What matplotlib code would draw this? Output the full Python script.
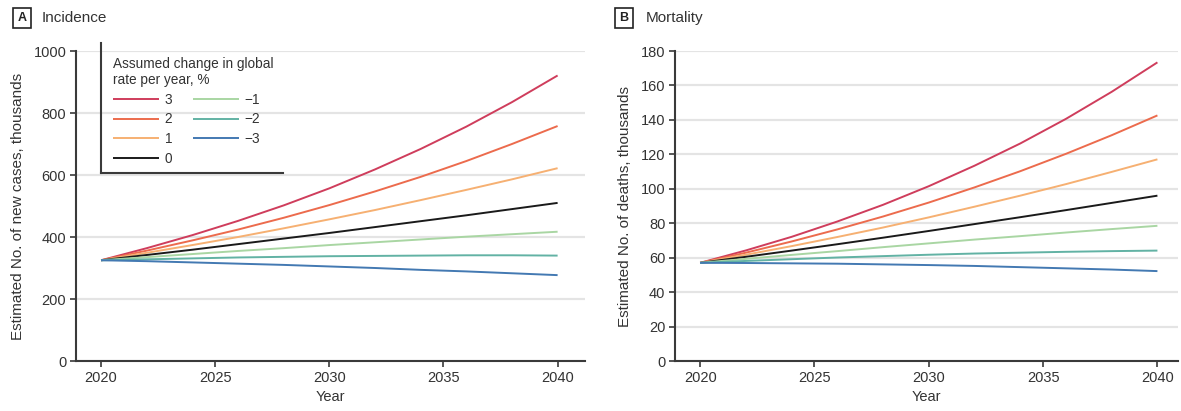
import matplotlib.pyplot as plt
from matplotlib.lines import Line2D

plt.rcParams["font.family"] = ["Liberation Sans Narrow", "Liberation Sans", "DejaVu Sans"]

years = [2020, 2022, 2024, 2026, 2028, 2030, 2032, 2034, 2036, 2038, 2040]
tick_years = [2020, 2025, 2030, 2035, 2040]
rate_labels = ["3", "2", "1", "0", "\u22121", "\u22122", "\u22123"]
colors = ["#cf3d5c", "#ec6b4d", "#f6b072", "#1a1a1a", "#a9d6a3", "#62b2a4", "#4379b2"]

# incidence, thousands of new cases
inc_p3 = [325, 364, 406, 452, 502, 557, 618, 684, 756, 835, 921]
inc_p2 = [325, 356, 389, 424, 462, 503, 547, 594, 645, 700, 758]
inc_p1 = [325, 349, 374, 400, 428, 457, 487, 519, 552, 586, 622]
inc_0 = [325, 342, 359, 377, 395, 413, 432, 451, 470, 490, 510]
inc_m1 = [325, 335, 345, 355, 364, 374, 383, 392, 401, 409, 417]
inc_m2 = [325, 328, 331, 334, 336, 338, 339, 340, 341, 341, 340]
inc_m3 = [325, 322, 318, 314, 310, 305, 300, 294, 289, 283, 277]

# mortality, thousands of deaths
mort_p3 = [57, 64.2, 72.1, 81.0, 90.7, 101.5, 113.4, 126.3, 140.6, 156.3, 173.4]
mort_p2 = [57, 62.9, 69.4, 76.4, 83.9, 92.0, 100.8, 110.2, 120.3, 131.1, 142.6]
mort_p1 = [57, 61.7, 66.7, 72.0, 77.5, 83.4, 89.6, 96.0, 102.7, 109.8, 117.1]
mort_0 = [57, 60.5, 64.1, 67.8, 71.6, 75.5, 79.5, 83.5, 87.6, 91.8, 96.0]
mort_m1 = [57, 59.3, 61.6, 63.8, 66.1, 68.3, 70.5, 72.5, 74.6, 76.6, 78.5]
mort_m2 = [57, 58.1, 59.1, 60.1, 60.9, 61.7, 62.4, 62.9, 63.4, 63.8, 64.1]
mort_m3 = [57, 56.9, 56.7, 56.5, 56.1, 55.7, 55.2, 54.5, 53.8, 53.1, 52.2]

incidence = [inc_p3, inc_p2, inc_p1, inc_0, inc_m1, inc_m2, inc_m3]
mortality = [mort_p3, mort_p2, mort_p1, mort_0, mort_m1, mort_m2, mort_m3]

W, H = 1181, 411
fig = plt.figure(figsize=(W / 100, H / 100), dpi=100)


def px_box(x0, y_top, x1, y_bot):
    return [x0 / W, 1 - y_bot / H, (x1 - x0) / W, (y_bot - y_top) / H]


ax1 = fig.add_axes(px_box(76, 51, 585, 361))
ax2 = fig.add_axes(px_box(675, 51, 1178, 361))

panels = [
    (ax1, incidence, 1000, 200, (2018.9, 2041.2), "Estimated No. of new cases, thousands"),
    (ax2, mortality, 180, 20, (2018.9, 2040.9), "Estimated No. of deaths, thousands"),
]

for ax, data, ymax, ystep, xlim, ylabel in panels:
    for vals, col, lab in zip(data, colors, rate_labels):
        ax.plot(years, vals, color=col, lw=1.4, label=lab, solid_capstyle="butt")
    ax.set_xlim(*xlim)
    ax.set_ylim(0, ymax)
    ax.set_xticks(tick_years)
    ax.set_yticks(range(0, ymax + 1, ystep))
    for s in ["top", "right"]:
        ax.spines[s].set_visible(False)
    for s in ["left", "bottom"]:
        ax.spines[s].set_color("#3a3a3a")
        ax.spines[s].set_linewidth(1.5)
    ax.yaxis.grid(True, color="#e4e4e4", lw=1.6)
    ax.set_axisbelow(True)
    ax.tick_params(direction="out", length=4, width=1.2, color="#3a3a3a",
                   labelsize=10.5, labelcolor="#333333", pad=3)
    ax.set_xlabel("Year", fontsize=10.5, color="#333333", labelpad=4)
    ax.set_ylabel(ylabel, fontsize=11, color="#333333", labelpad=6)

# legend in panel A with an L-shaped bracket
leg = ax1.legend(
    ncol=2,
    frameon=False,
    title="Assumed change in global\nrate per year, %",
    alignment="left",
    fontsize=9.8,
    title_fontsize=9.8,
    handlelength=3.4,
    handletextpad=0.4,
    columnspacing=1.5,
    labelspacing=0.42,
    borderpad=0,
    loc="upper left",
    bbox_to_anchor=(106 / W, 1 - 50 / H),
    bbox_transform=fig.transFigure,
)
for t in leg.get_texts():
    t.set_color("#333333")
leg.get_title().set_color("#333333")

fig.add_artist(Line2D([101 / W, 101 / W], [1 - 43 / H, 1 - 173 / H],
                      color="#3a3a3a", lw=1.5, transform=fig.transFigure))
fig.add_artist(Line2D([101 / W, 283 / W], [1 - 173 / H, 1 - 173 / H],
                      color="#3a3a3a", lw=1.5, transform=fig.transFigure))

# panel tags
for x_box, letter, x_txt, name in [(22, "A", 42, "Incidence"), (624, "B", 646, "Mortality")]:
    fig.text(x_box / W, 1 - 18 / H, letter, fontsize=9, fontweight="bold",
             ha="center", va="center", color="#222222",
             bbox=dict(boxstyle="square,pad=0.35", fc="white", ec="#222222", lw=1.2))
    fig.text(x_txt / W, 1 - 18 / H, name, fontsize=11, ha="left", va="center",
             color="#333333")

fig.savefig("out.png", dpi=100)
